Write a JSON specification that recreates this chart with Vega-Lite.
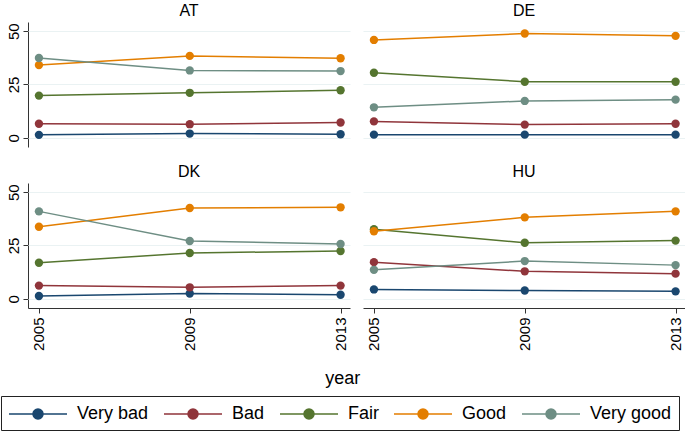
{
  "$schema": "https://vega.github.io/schema/vega-lite/v6.json",
  "padding": {"left": 0, "top": 3, "right": 0, "bottom": 0},
  "background": "white",
  "title": {"text": "year", "orient": "bottom", "anchor": "middle", "frame": "bounds", "fontSize": 18, "fontWeight": "normal", "font": "Liberation Sans", "color": "black", "offset": -61},
  "data": {"values": [
    {"country": "AT", "year": 2005, "health": "Very bad", "value": 1.4},
    {"country": "AT", "year": 2009, "health": "Very bad", "value": 2.0},
    {"country": "AT", "year": 2013, "health": "Very bad", "value": 1.7},
    {"country": "AT", "year": 2005, "health": "Bad", "value": 6.6},
    {"country": "AT", "year": 2009, "health": "Bad", "value": 6.4},
    {"country": "AT", "year": 2013, "health": "Bad", "value": 7.2},
    {"country": "AT", "year": 2005, "health": "Fair", "value": 19.8},
    {"country": "AT", "year": 2009, "health": "Fair", "value": 21.1},
    {"country": "AT", "year": 2013, "health": "Fair", "value": 22.3},
    {"country": "AT", "year": 2005, "health": "Good", "value": 34.1},
    {"country": "AT", "year": 2009, "health": "Good", "value": 38.4},
    {"country": "AT", "year": 2013, "health": "Good", "value": 37.3},
    {"country": "AT", "year": 2005, "health": "Very good", "value": 37.4},
    {"country": "AT", "year": 2009, "health": "Very good", "value": 31.6},
    {"country": "AT", "year": 2013, "health": "Very good", "value": 31.3},
    {"country": "DE", "year": 2005, "health": "Very bad", "value": 1.5},
    {"country": "DE", "year": 2009, "health": "Very bad", "value": 1.5},
    {"country": "DE", "year": 2013, "health": "Very bad", "value": 1.5},
    {"country": "DE", "year": 2005, "health": "Bad", "value": 7.7},
    {"country": "DE", "year": 2009, "health": "Bad", "value": 6.2},
    {"country": "DE", "year": 2013, "health": "Bad", "value": 6.6},
    {"country": "DE", "year": 2005, "health": "Fair", "value": 30.5},
    {"country": "DE", "year": 2009, "health": "Fair", "value": 26.3},
    {"country": "DE", "year": 2013, "health": "Fair", "value": 26.3},
    {"country": "DE", "year": 2005, "health": "Good", "value": 45.9},
    {"country": "DE", "year": 2009, "health": "Good", "value": 48.9},
    {"country": "DE", "year": 2013, "health": "Good", "value": 47.8},
    {"country": "DE", "year": 2005, "health": "Very good", "value": 14.3},
    {"country": "DE", "year": 2009, "health": "Very good", "value": 17.3},
    {"country": "DE", "year": 2013, "health": "Very good", "value": 17.9},
    {"country": "DK", "year": 2005, "health": "Very bad", "value": 1.3},
    {"country": "DK", "year": 2009, "health": "Very bad", "value": 2.5},
    {"country": "DK", "year": 2013, "health": "Very bad", "value": 1.9},
    {"country": "DK", "year": 2005, "health": "Bad", "value": 6.2},
    {"country": "DK", "year": 2009, "health": "Bad", "value": 5.4},
    {"country": "DK", "year": 2013, "health": "Bad", "value": 6.2},
    {"country": "DK", "year": 2005, "health": "Fair", "value": 16.9},
    {"country": "DK", "year": 2009, "health": "Fair", "value": 21.5},
    {"country": "DK", "year": 2013, "health": "Fair", "value": 22.4},
    {"country": "DK", "year": 2005, "health": "Good", "value": 33.8},
    {"country": "DK", "year": 2009, "health": "Good", "value": 42.6},
    {"country": "DK", "year": 2013, "health": "Good", "value": 42.9},
    {"country": "DK", "year": 2005, "health": "Very good", "value": 41.0},
    {"country": "DK", "year": 2009, "health": "Very good", "value": 27.1},
    {"country": "DK", "year": 2013, "health": "Very good", "value": 25.7},
    {"country": "HU", "year": 2005, "health": "Very bad", "value": 4.4},
    {"country": "HU", "year": 2009, "health": "Very bad", "value": 3.9},
    {"country": "HU", "year": 2013, "health": "Very bad", "value": 3.5},
    {"country": "HU", "year": 2005, "health": "Bad", "value": 17.2},
    {"country": "HU", "year": 2009, "health": "Bad", "value": 12.9},
    {"country": "HU", "year": 2013, "health": "Bad", "value": 11.8},
    {"country": "HU", "year": 2005, "health": "Fair", "value": 32.6},
    {"country": "HU", "year": 2009, "health": "Fair", "value": 26.3},
    {"country": "HU", "year": 2013, "health": "Fair", "value": 27.3},
    {"country": "HU", "year": 2005, "health": "Good", "value": 31.7},
    {"country": "HU", "year": 2009, "health": "Good", "value": 38.2},
    {"country": "HU", "year": 2013, "health": "Good", "value": 41.0},
    {"country": "HU", "year": 2005, "health": "Very good", "value": 13.6},
    {"country": "HU", "year": 2009, "health": "Very good", "value": 17.7},
    {"country": "HU", "year": 2013, "health": "Very good", "value": 15.8}
  ]},
  "facet": {"field": "country", "type": "nominal", "header": {"title": null, "labelFontSize": 16, "labelFont": "Liberation Sans", "labelColor": "black", "labelPadding": 3}},
  "columns": 2,
  "spacing": {"column": 13, "row": 17},
  "spec": {
    "width": 322,
    "height": 125,
    "mark": {"type": "line", "strokeWidth": 1.5, "point": {"filled": true, "size": 70, "opacity": 1}},
    "encoding": {
      "x": {"field": "year", "type": "quantitative",
        "scale": {"domain": [2004.71, 2013.25], "nice": false, "zero": false},
        "axis": {"values": [2005, 2009, 2013], "format": "d", "labelAngle": 270, "title": null, "grid": false, "labelPadding": 4}},
      "y": {"field": "value", "type": "quantitative",
        "scale": {"domain": [-4.3, 54.3], "nice": false, "zero": false},
        "axis": {"values": [0, 25, 50], "labelAngle": 270, "title": null, "grid": true, "gridColor": "#eaf2f3", "gridWidth": 1.2, "labelPadding": 2}},
      "color": {"field": "health", "type": "nominal",
        "scale": {"domain": ["Very bad", "Bad", "Fair", "Good", "Very good"], "range": ["#1a476f", "#90353b", "#55752f", "#e37e00", "#6e8e84"]},
        "legend": {
          "orient": "none", "legendX": -27, "legendY": 374, "direction": "horizontal", "columns": 5, "title": null,
          "labelFontSize": 18, "labelFont": "Liberation Sans", "labelColor": "black",
          "symbolType": "M-1,0H4.8M2.4,0A0.5,0.5,0,1,1,1.4,0A0.5,0.5,0,1,1,2.4,0Z",
          "symbolSize": 400, "symbolStrokeWidth": 1.5,
          "strokeColor": "#222", "padding": 7, "columnPadding": 12, "labelOffset": 47,
          "encode": {"symbols": {"update": {"fill": {"scale": "color", "field": "value"}, "stroke": {"scale": "color", "field": "value"}, "opacity": {"value": 1}}}}
        }}
    }
  },
  "config": {
    "font": "Liberation Sans",
    "view": {"stroke": null},
    "axis": {"labelFontSize": 15, "labelColor": "black", "domainColor": "#333", "tickColor": "#333", "tickSize": 5, "labelFont": "Liberation Sans"}
  }
}
